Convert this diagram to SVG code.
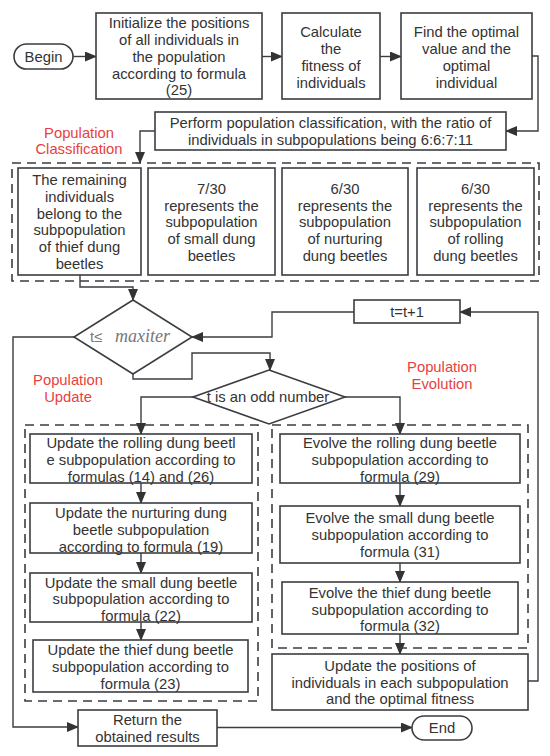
<svg xmlns="http://www.w3.org/2000/svg" width="550" height="756" viewBox="0 0 550 756">
<defs>
<marker id="ah" markerWidth="12" markerHeight="10" refX="11" refY="5" orient="auto" markerUnits="userSpaceOnUse">
<path d="M0,0 L12,5 L0,10 Z" fill="#333"/>
</marker>
<style>
.box{fill:#fff;stroke:#3a3d42;stroke-width:1.6}
.dash{fill:none;stroke:#3a3d42;stroke-width:1.6;stroke-dasharray:9,6}
.ln{fill:none;stroke:#3a3d42;stroke-width:1.4;marker-end:url(#ah)}
text{font-family:"Liberation Sans",Arial,sans-serif;font-size:14.8px;fill:#333;text-anchor:middle}
.red{fill:#e8413e}
.math{font-family:"Liberation Serif","DejaVu Serif",serif;font-style:italic;font-size:18px;fill:#777}
</style>
</defs>
<rect width="550" height="756" fill="#fff"/>

<g id="connectors">
<line class="ln" x1="73" y1="56.5" x2="96" y2="56.5"/>
<line class="ln" x1="262" y1="56.5" x2="282" y2="56.5"/>
<line class="ln" x1="380" y1="56.5" x2="401" y2="56.5"/>
<polyline class="ln" points="532,56 538,56 538,131 506,131"/>
<polyline class="ln" points="155,131 140,131 140,163"/>
<polyline class="ln" points="80,275 80,287 133,287 133,300"/>
<polyline class="ln" points="133,374 133,379 192,379 192,353 270,353 270,370"/>
<polyline class="ln" points="193,397 141,397 141,434"/>
<polyline class="ln" points="345,397 400,397 400,434"/>
<polyline class="ln" points="354,312 272,312 272,337 192,337"/>
<polyline class="ln" points="528,681 538,681 538,312 460,312"/>
<polyline class="ln" points="74,337 13,337 13,727 78,727"/>
<line class="ln" x1="217" y1="727.5" x2="412" y2="727.5"/>
<line class="ln" x1="141" y1="483" x2="141" y2="503"/>
<line class="ln" x1="141" y1="553" x2="141" y2="573"/>
<line class="ln" x1="141" y1="622" x2="141" y2="640"/>
<line class="ln" x1="400" y1="483" x2="400" y2="506"/>
<line class="ln" x1="400" y1="563" x2="400" y2="582"/>
<line class="ln" x1="400" y1="634" x2="400" y2="654"/>
</g>

<g id="begin">
<rect class="box" x="14" y="44" width="59" height="25" rx="12.5"/>
<text x="43.5" y="56.5" dy="0.35em">Begin</text>
</g>

<g id="init">
<rect class="box" x="96" y="13" width="166" height="86"/>
<text x="179" y="23.3" dy="0.35em">Initialize the positions</text>
<text x="179" y="40" dy="0.35em">of all individuals in</text>
<text x="179" y="56.7" dy="0.35em">the population</text>
<text x="179" y="73.4" dy="0.35em">according to formula</text>
<text x="179" y="90.1" dy="0.35em">(25)</text>
</g>

<g id="calc">
<rect class="box" x="282" y="13" width="98" height="86"/>
<text x="331" y="32.3" dy="0.35em">Calculate</text>
<text x="331" y="49" dy="0.35em">the</text>
<text x="331" y="65.7" dy="0.35em">fitness of</text>
<text x="331" y="82.4" dy="0.35em">individuals</text>
</g>

<g id="find">
<rect class="box" x="401" y="13" width="131" height="86"/>
<text x="466.5" y="32.3" dy="0.35em">Find the optimal</text>
<text x="466.5" y="49" dy="0.35em">value and the</text>
<text x="466.5" y="65.7" dy="0.35em">optimal</text>
<text x="466.5" y="82.4" dy="0.35em">individual</text>
</g>

<g id="classify">
<rect class="box" x="155" y="112" width="351" height="38"/>
<text x="330.5" y="122.7" dy="0.35em">Perform population classification, with the ratio of</text>
<text x="330.5" y="139.4" dy="0.35em">individuals in subpopulations being 6:6:7:11</text>
</g>

<g id="label-classification">
<text class="red" x="79" y="132.6" dy="0.35em">Population</text>
<text class="red" x="79" y="149.3" dy="0.35em">Classification</text>
</g>

<g id="classification-group">
<rect class="dash" x="12" y="163" width="527" height="118"/>
</g>

<g id="sub-thief">
<rect class="box" x="18" y="168" width="123" height="107"/>
<text x="79.5" y="180" dy="0.35em">The remaining</text>
<text x="79.5" y="196.7" dy="0.35em">individuals</text>
<text x="79.5" y="213.4" dy="0.35em">belong to the</text>
<text x="79.5" y="230.1" dy="0.35em">subpopulation</text>
<text x="79.5" y="246.8" dy="0.35em">of thief dung</text>
<text x="79.5" y="263.5" dy="0.35em">beetles</text>
</g>

<g id="sub-small">
<rect class="box" x="148" y="168" width="127" height="107"/>
<text x="211.5" y="188.8" dy="0.35em">7/30</text>
<text x="211.5" y="205.5" dy="0.35em">represents the</text>
<text x="211.5" y="222.2" dy="0.35em">subpopulation</text>
<text x="211.5" y="238.9" dy="0.35em">of small dung</text>
<text x="211.5" y="255.6" dy="0.35em">beetles</text>
</g>

<g id="sub-nurturing">
<rect class="box" x="282" y="168" width="126" height="107"/>
<text x="345" y="188.8" dy="0.35em">6/30</text>
<text x="345" y="205.5" dy="0.35em">represents the</text>
<text x="345" y="222.2" dy="0.35em">subpopulation</text>
<text x="345" y="238.9" dy="0.35em">of nurturing</text>
<text x="345" y="255.6" dy="0.35em">dung beetles</text>
</g>

<g id="sub-rolling">
<rect class="box" x="417" y="168" width="117" height="107"/>
<text x="475.5" y="188.8" dy="0.35em">6/30</text>
<text x="475.5" y="205.5" dy="0.35em">represents the</text>
<text x="475.5" y="222.2" dy="0.35em">subpopulation</text>
<text x="475.5" y="238.9" dy="0.35em">of rolling</text>
<text x="475.5" y="255.6" dy="0.35em">dung beetles</text>
</g>

<g id="cond-maxiter">
<polygon class="box" points="133,300 192,337 133,374 74,337"/>
<text x="90" y="337" dy="0.35em" style="text-anchor:start;fill:#777">t≤</text>
<text class="math" x="115" y="337" dy="0.3em" style="text-anchor:start">maxiter</text>
</g>

<g id="increment">
<rect class="box" x="354" y="300" width="106" height="23"/>
<text x="407" y="311.5" dy="0.35em">t=t+1</text>
</g>

<g id="label-update">
<text class="red" x="68" y="380.2" dy="0.35em">Population</text>
<text class="red" x="68" y="396.9" dy="0.35em">Update</text>
</g>

<g id="label-evolution">
<text class="red" x="442" y="366.7" dy="0.35em">Population</text>
<text class="red" x="442" y="383.4" dy="0.35em">Evolution</text>
</g>

<g id="cond-odd">
<polygon class="box" points="269,370 345,397 269,424 193,397"/>
<text x="268" y="397" dy="0.35em">t is an odd number</text>
</g>

<g id="update-group">
<rect class="dash" x="25" y="425" width="233" height="276"/>
</g>

<g id="update-rolling">
<rect class="box" x="30" y="434" width="222" height="49"/>
<text x="141" y="443.3" dy="0.35em">Update the rolling dung beetl</text>
<text x="141" y="460" dy="0.35em">e subpopulation according to</text>
<text x="141" y="476.7" dy="0.35em">formulas (14) and (26)</text>
</g>

<g id="update-nurturing">
<rect class="box" x="30" y="503" width="222" height="50"/>
<text x="141" y="513.3" dy="0.35em">Update the nurturing dung</text>
<text x="141" y="530" dy="0.35em">beetle subpopulation</text>
<text x="141" y="546.7" dy="0.35em">according to formula (19)</text>
</g>

<g id="update-small">
<rect class="box" x="30" y="573" width="222" height="49"/>
<text x="141" y="582.5" dy="0.35em">Update the small dung beetle</text>
<text x="141" y="599.2" dy="0.35em">subpopulation according to</text>
<text x="141" y="615.9" dy="0.35em">formula (22)</text>
</g>

<g id="update-thief">
<rect class="box" x="33" y="640" width="215" height="52"/>
<text x="140.5" y="650.3" dy="0.35em">Update the thief dung beetle</text>
<text x="140.5" y="667" dy="0.35em">subpopulation according to</text>
<text x="140.5" y="683.7" dy="0.35em">formula (23)</text>
</g>

<g id="evolve-group">
<rect class="dash" x="272" y="425" width="256" height="223"/>
</g>

<g id="evolve-rolling">
<rect class="box" x="280" y="434" width="240" height="49"/>
<text x="400" y="443.3" dy="0.35em">Evolve the rolling dung beetle</text>
<text x="400" y="460" dy="0.35em">subpopulation according to</text>
<text x="400" y="476.7" dy="0.35em">formula (29)</text>
</g>

<g id="evolve-small">
<rect class="box" x="280" y="506" width="240" height="57"/>
<text x="400" y="518.3" dy="0.35em">Evolve the small dung beetle</text>
<text x="400" y="535" dy="0.35em">subpopulation according to</text>
<text x="400" y="551.7" dy="0.35em">formula (31)</text>
</g>

<g id="evolve-thief">
<rect class="box" x="282" y="582" width="236" height="52"/>
<text x="400" y="592.8" dy="0.35em">Evolve the thief dung beetle</text>
<text x="400" y="609.5" dy="0.35em">subpopulation according to</text>
<text x="400" y="626.2" dy="0.35em">formula (32)</text>
</g>

<g id="update-positions">
<rect class="box" x="272" y="654" width="256" height="56"/>
<text x="400" y="665.8" dy="0.35em">Update the positions of</text>
<text x="400" y="682.5" dy="0.35em">individuals in each subpopulation</text>
<text x="400" y="699.2" dy="0.35em">and the optimal fitness</text>
</g>

<g id="return">
<rect class="box" x="78" y="710" width="139" height="36"/>
<text x="147.5" y="720" dy="0.35em">Return the</text>
<text x="147.5" y="736.7" dy="0.35em">obtained results</text>
</g>

<g id="end">
<rect class="box" x="412" y="716" width="60" height="24" rx="12"/>
<text x="442" y="728" dy="0.35em">End</text>
</g>
</svg>
